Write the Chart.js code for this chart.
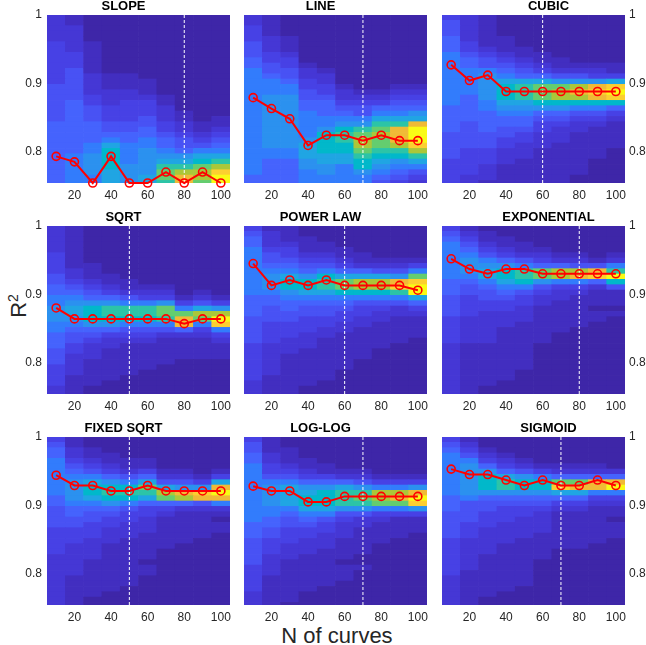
<!DOCTYPE html>
<html>
<head>
<meta charset="utf-8">
<script src="https://cdn.jsdelivr.net/npm/chart.js@4.4.1/dist/chart.umd.min.js"></script>
<style>
  body { margin: 0; background: #fff; width: 646px; height: 645px; position: relative; overflow: hidden;
         font-family: "Liberation Sans", Arial, Helvetica, sans-serif; }
  .panel { position: absolute; }
  #ylab { position: absolute; left: 16px; top: 306px; transform: translate(-50%, -50%) rotate(-90deg);
          font-size: 22px; line-height: 22px; color: #262626; white-space: nowrap; }
  #ylab sup { font-size: 14px; }
  #xlab { position: absolute; left: 337px; top: 625px; transform: translateX(-50%);
          font-size: 22px; line-height: 22px; color: #262626; white-space: nowrap; }
</style>
</head>
<body>
<div id="ylab">R<sup>2</sup></div>
<div id="xlab">N of curves</div>
<script>
// x: number of curves, y: R^2
const nCurves = [10, 20, 30, 40, 50, 60, 70, 80, 90, 100];
const xTicks = [20, 40, 60, 80, 100];
const yTicks = [0.8, 0.9, 1];
const r2Min = 0.754, r2Max = 1;
const binStart = 0.75, binWidth = 0.0078125;

const panelTitles = ['SLOPE', 'LINE', 'CUBIC', 'SQRT', 'POWER LAW', 'EXPONENTIAL', 'FIXED SQRT', 'LOG-LOG', 'SIGMOID'];
const cutoffN = [80, 70, 60, 50, 60, 80, 50, 70, 70];

// red line: most frequent R^2 for each N
const slopeMode = [0.793, 0.785, 0.754, 0.793, 0.754, 0.754, 0.770, 0.754, 0.770, 0.754];
const lineMode = [0.879, 0.863, 0.848, 0.809, 0.824, 0.824, 0.816, 0.824, 0.816, 0.816];
const cubicMode = [0.927, 0.904, 0.912, 0.888, 0.888, 0.888, 0.888, 0.888, 0.888, 0.888];
const sqrtMode = [0.880, 0.864, 0.864, 0.864, 0.864, 0.864, 0.864, 0.857, 0.864, 0.864];
const powerMode = [0.945, 0.913, 0.921, 0.913, 0.921, 0.913, 0.913, 0.913, 0.913, 0.906];
const expMode = [0.952, 0.937, 0.930, 0.937, 0.937, 0.930, 0.930, 0.930, 0.930, 0.930];
const fixedSqrtMode = [0.944, 0.929, 0.929, 0.921, 0.921, 0.929, 0.921, 0.921, 0.921, 0.921];
const logLogMode = [0.928, 0.921, 0.921, 0.905, 0.905, 0.913, 0.913, 0.913, 0.913, 0.913];
const sigmoidMode = [0.953, 0.945, 0.945, 0.937, 0.929, 0.937, 0.929, 0.929, 0.937, 0.929];

// density per N column, one hex level (0-f) per R^2 bin, bottom bin first
const slopeDensity = [
  '55555555 55554444 44433333 33322222',
  '66666655 55555555 44444433 32222211',
  '66777766 55554443 32222111 11100000',
  '88899998 65443332 22111000 00000000',
  '77776666 55443333 22111000 00000000',
  '88777776 65544333 21110000 00000000',
  'abba8765 54332221 10000000 00000000',
  'ddca8754 43221100 00000000 00000000',
  'bccb9864 32110000 00000000 00000000',
  'ffeca865 43211000 00000000 00000000'
];
const lineDensity = [
  '55666666 66666666 66666655 44433322',
  '55555667 77777777 76665443 32221111',
  '55555667 77777777 76654433 21110000',
  '66677888 76666655 44332210 00000000',
  '66778899 99766555 43322100 00000000',
  '66668899 aa976543 22100000 00000000',
  '66799abc cba76443 21000000 00000000',
  '456789ab bcba8653 21000000 00000000',
  '345679ac ddda8654 32100000 00000000',
  '23468ace fffd8754 32100000 00000000'
];
const cubicDensity = [
  '33333444 44555556 66666666 65554443',
  '22333334 44445555 56666655 43322222',
  '12223334 44555566 77777644 32111111',
  '11112223 34455678 99986543 21110000',
  '11111222 33455678 aaa85432 11000000',
  '11111112 22334579 bbb85321 10000000',
  '11111111 22234579 ccb74211 00000000',
  '00111111 11223469 cdc74210 00000000',
  '00000111 11123469 ded73210 00000000',
  '00000001 11112359 efe83110 00000000'
];
const sqrtDensity = [
  '22333344 45556677 76655443 33322222',
  '11112222 33445678 87654322 11111111',
  '00111112 22345799 97543211 10000000',
  '00011111 1223579a a7532110 00000000',
  '00001111 1123469a a6421100 00000000',
  '00000111 1123469a a6321000 00000000',
  '00000011 111246ab b7321000 00000000',
  '00000001 11125ddb 63100000 00000000',
  '00000001 111236bc 84210000 00000000',
  '00000001 11236efc 73100000 00000000'
];
const powerDensity = [
  '22233333 33444445 55566666 66665543',
  '11112222 22333344 45567776 54432221',
  '11111111 22233344 55679986 54332111',
  '00111111 12223334 45689975 43211100',
  '00011111 11122334 4568aa96 43211000',
  '00000111 11112233 4569bb85 32110000',
  '00000001 11111223 3469cc85 21100000',
  '00000000 01111122 3469cc84 21000000',
  '00000000 00111112 246aed74 21000000',
  '00000000 00011112 358ffeb6 31000000'
];
const expDensity = [
  '22222222 22333334 44455566 66666543',
  '11111111 11222223 33344567 77654321',
  '00111111 11222222 33445688 76432110',
  '00011111 11111222 33456899 75321100',
  '00000111 11111122 233469aa 64211000',
  '00000000 00111111 122347bb 53210000',
  '00000000 00001111 112236cc 52100000',
  '00000000 00000111 111236dc 42100000',
  '00000000 00000011 011125ed 41000000',
  '00000000 00000001 011149fa 62100000'
];
const fixedSqrtDensity = [
  '22222222 22333334 44455666 66665543',
  '11111122 22223334 45567777 65432211',
  '00111111 12222333 44568998 64321100',
  '00011111 11112223 34579a97 53211000',
  '00001111 11111222 33469a96 42110000',
  '00000011 01111122 23358ab8 53110000',
  '00000000 00011111 1235bc84 21000000',
  '00000000 00001111 1125cd74 21000000',
  '00000000 00000111 1124de73 10000000',
  '00000000 00000011 0126dfd8 31000000'
];
const logLogDensity = [
  '22233333 44444555 66666666 66655443',
  '11111122 22333445 56677776 43322111',
  '01111111 12223334 45688886 43211100',
  '00011111 11222334 56899875 32110000',
  '00001111 11122233 46899975 31100000',
  '00000111 01111222 347aaa85 21000000',
  '00000001 00111112 247aba74 21000000',
  '00000000 00001111 236bcc63 10000000',
  '00000000 00000111 136bdc63 10000000',
  '00000000 00000011 137efd73 10000000'
];
const sigmoidDensity = [
  '22222233 33333444 44555666 66666543',
  '11111112 22222333 44446777 77764321',
  '00111111 11222223 33445799 97532100',
  '00011111 11112222 333457aa 85321000',
  '00001111 11111222 23345799 74210000',
  '00000000 01111122 22345799 63100000',
  '00000000 00011111 112358eb 52100000',
  '00000000 00011111 112358db 52100000',
  '00000000 00001111 111236dd 52100000',
  '00000000 00000111 011236fd 52000000'
];

const modes = [slopeMode, lineMode, cubicMode, sqrtMode, powerMode, expMode, fixedSqrtMode, logLogMode, sigmoidMode];
const densities = [slopeDensity, lineDensity, cubicDensity, sqrtDensity, powerDensity, expDensity, fixedSqrtDensity, logLogDensity, sigmoidDensity];

// parula-like levels
const levelColors = ['#3e26a8', '#422ec0', '#4537d5', '#4741e5', '#4852f4', '#4563fd', '#327cfc', '#2b91ef',
                     '#20a5e3', '#01b8ca', '#2cc4a7', '#64cd6f', '#abc739', '#f0ba36', '#fccf30', '#f9fb15'];

const fontFamily = '"Liberation Sans", Arial, Helvetica, sans-serif';
const colLeft = [47, 244, 442];
const rowTop = [15, 226, 437];

function buildPanel(i) {
  const col = i % 3, row = Math.floor(i / 3);
  const wrap = document.createElement('div');
  wrap.className = 'panel';
  const canvas = document.createElement('canvas');
  canvas.width = 243;
  canvas.height = 204;
  wrap.appendChild(canvas);
  document.body.appendChild(wrap);

  const cols = densities[i].map(s => s.replace(/ /g, ''));
  const binSets = [];
  for (let b = 0; b < cols[0].length; b++) {
    const lo = binStart + b * binWidth;
    binSets.push({
      type: 'bar',
      data: nCurves.map(n => ({ x: n, y: [lo, lo + binWidth] })),
      backgroundColor: cols.map(s => levelColors[parseInt(s[b], 16)]),
      borderWidth: 0,
      grouped: false,
      barPercentage: 1,
      categoryPercentage: 1,
      order: 2
    });
  }

  const chart = new Chart(canvas, {
    type: 'bar',
    data: {
      datasets: [
        {
          type: 'line',
          data: nCurves.map((n, k) => ({ x: n, y: modes[i][k] })),
          borderColor: '#ff0000',
          borderWidth: 2,
          pointRadius: 4,
          pointBorderWidth: 1.6,
          pointBorderColor: '#ff0000',
          pointBackgroundColor: 'rgba(0,0,0,0)',
          clip: false,
          order: 0
        },
        {
          type: 'line',
          data: [{ x: cutoffN[i], y: r2Min }, { x: cutoffN[i], y: r2Max }],
          borderColor: '#ffffff',
          borderWidth: 1,
          borderDash: [3, 2],
          pointRadius: 0,
          order: 1
        },
        ...binSets
      ]
    },
    options: {
      responsive: false,
      animation: false,
      layout: { autoPadding: false, padding: { left: col === 2 ? 30 : 0, right: col === 2 ? 0 : 30, top: 0, bottom: 0 } },
      plugins: {
        legend: { display: false },
        tooltip: { enabled: false },
        title: {
          display: true,
          text: panelTitles[i],
          color: '#000',
          font: { family: fontFamily, size: 13, weight: 'bold', lineHeight: '15px' },
          padding: { top: 0, bottom: 1 }
        }
      },
      scales: {
        x: {
          type: 'linear',
          min: 5,
          max: 105,
          offset: false,
          grid: { display: false, drawTicks: false, offset: false },
          border: { display: false },
          afterBuildTicks: s => { s.ticks = xTicks.map(v => ({ value: v })); },
          afterFit: s => { s.height = 20; },
          ticks: { color: '#262626', font: { family: fontFamily, size: 12 }, padding: 5, maxRotation: 0, autoSkip: false }
        },
        y: {
          type: 'linear',
          position: col === 2 ? 'right' : 'left',
          min: r2Min,
          max: r2Max,
          grid: { display: false, drawTicks: false },
          border: { display: false },
          afterBuildTicks: s => { s.ticks = yTicks.map(v => ({ value: v })); },
          afterFit: s => { s.width = 30; },
          ticks: {
            display: col !== 1,
            color: '#262626',
            font: { family: fontFamily, size: 12 },
            padding: col === 2 ? 4 : 5,
            callback: v => (v === 1 ? '1' : v.toFixed(1))
          }
        }
      }
    }
  });

  // line the plot area up with the grid of panels
  wrap.style.left = (colLeft[col] - chart.chartArea.left) + 'px';
  wrap.style.top = (rowTop[row] - chart.chartArea.top) + 'px';
}

for (let i = 0; i < 9; i++) buildPanel(i);
</script>
</body>
</html>
